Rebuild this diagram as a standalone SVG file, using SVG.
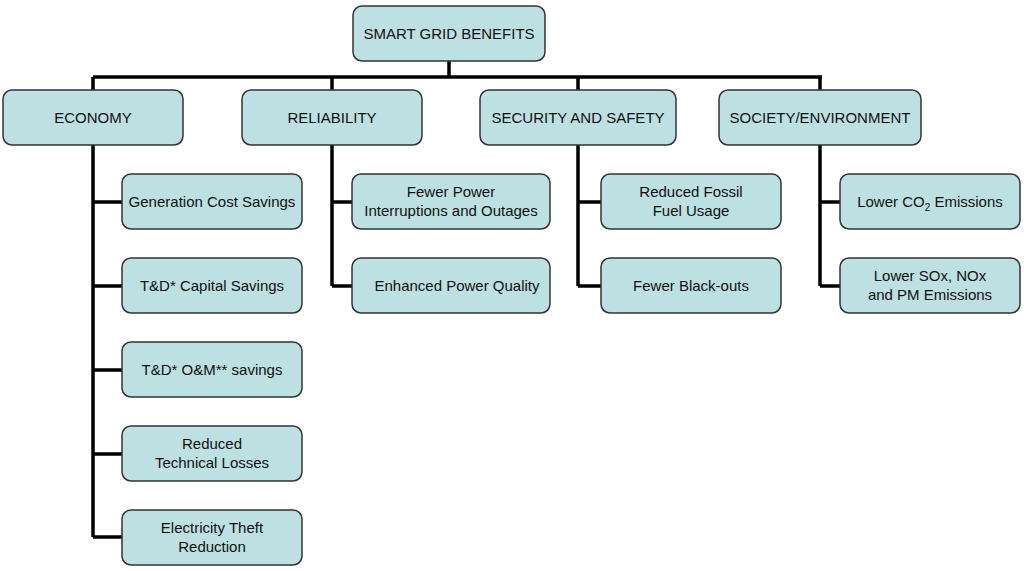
<svg xmlns="http://www.w3.org/2000/svg" width="1024" height="571" viewBox="0 0 1024 571">
<style>
rect{fill:#bde0e2;stroke:#333;stroke-width:1.5}
text{font-family:"Liberation Sans",Arial,sans-serif;font-size:15px;fill:#111;text-anchor:middle}
.c path{stroke:#000;stroke-width:3.5;fill:none}
</style>
<rect x="0" y="0" width="1024" height="571" style="fill:#fff;stroke:none"/>
<g class="c" id="connectors">
<path d="M449 61V77M93 77H822M93 77V90M332 77V90M578 77V90M820 77V90"/>
<path d="M93 145V537M93 202H122M93 286H122M93 370H122M93 454H122M93 537H122"/>
<path d="M332 145V286M332 202H352M332 286H352"/>
<path d="M578 145V286M578 202H601M578 286H601"/>
<path d="M820 145V286M820 202H840M820 286H840"/>
</g>
<g id="root"><rect x="353" y="6" width="192" height="55" rx="9"/><text x="449" y="39">SMART GRID BENEFITS</text></g>
<g id="economy"><rect x="3" y="90" width="180" height="55" rx="9"/><text x="93" y="123">ECONOMY</text></g>
<g id="reliability"><rect x="242" y="90" width="180" height="55" rx="9"/><text x="332" y="123">RELIABILITY</text></g>
<g id="security"><rect x="480" y="90" width="196" height="55" rx="9"/><text x="578" y="123">SECURITY AND SAFETY</text></g>
<g id="society"><rect x="719" y="90" width="202" height="55" rx="9"/><text x="820" y="123">SOCIETY/ENVIRONMENT</text></g>
<g id="e1"><rect x="122" y="174" width="180" height="55" rx="9"/><text x="212" y="207">Generation Cost Savings</text></g>
<g id="e2"><rect x="122" y="258" width="180" height="55" rx="9"/><text x="212" y="291">T&amp;D* Capital Savings</text></g>
<g id="e3"><rect x="122" y="342" width="180" height="55" rx="9"/><text x="212" y="375">T&amp;D* O&amp;M** savings</text></g>
<g id="e4"><rect x="122" y="426" width="180" height="55" rx="9"/><text x="212" y="449">Reduced</text><text x="212" y="468">Technical Losses</text></g>
<g id="e5"><rect x="122" y="510" width="180" height="55" rx="9"/><text x="212" y="533">Electricity Theft</text><text x="212" y="552">Reduction</text></g>
<g id="r1"><rect x="352" y="174" width="198" height="55" rx="9"/><text x="451" y="197">Fewer Power</text><text x="451" y="216">Interruptions and Outages</text></g>
<g id="r2"><rect x="352" y="258" width="198" height="55" rx="9"/><text x="457" y="291">Enhanced Power Quality</text></g>
<g id="s1"><rect x="601" y="174" width="180" height="55" rx="9"/><text x="691" y="197">Reduced Fossil</text><text x="691" y="216">Fuel Usage</text></g>
<g id="s2"><rect x="601" y="258" width="180" height="55" rx="9"/><text x="691" y="291">Fewer Black-outs</text></g>
<g id="v1"><rect x="840" y="174" width="180" height="55" rx="9"/><text x="930" y="207">Lower CO<tspan font-size="10" dy="4">2</tspan><tspan dy="-4"> Emissions</tspan></text></g>
<g id="v2"><rect x="840" y="258" width="180" height="55" rx="9"/><text x="930" y="281">Lower SOx, NOx</text><text x="930" y="300">and PM Emissions</text></g>
</svg>
